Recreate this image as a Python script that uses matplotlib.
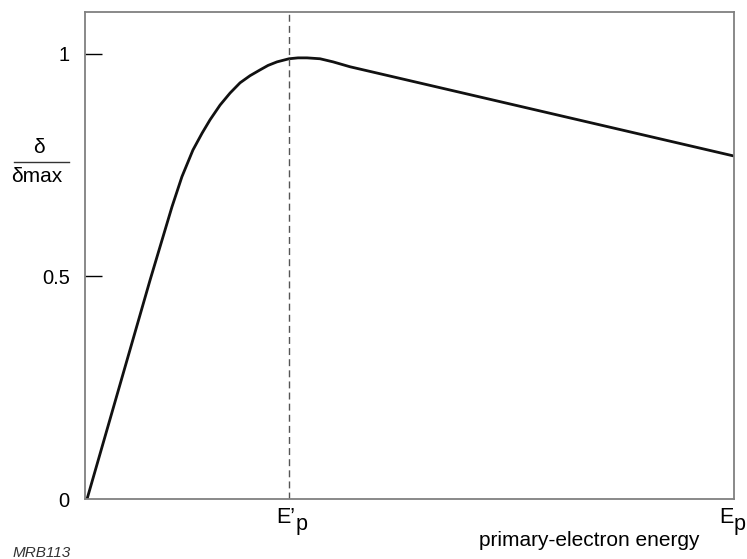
import matplotlib.pyplot as plt
import matplotlib.lines as mlines
import matplotlib.transforms as mtransforms

plt.rcParams['font.family'] = ['Liberation Sans', 'DejaVu Sans']

# curva delta/delta_max vs energia (E'p = 1)
energia = [0.01, 0.319, 0.426, 0.475, 0.529, 0.574, 0.613, 0.662, 0.711, 0.760,
           0.809, 0.858, 0.897, 0.941, 1.000, 1.044, 1.088, 1.152, 1.216, 1.299,
           3.176]
delta = [0.0, 0.492, 0.656, 0.724, 0.784, 0.822, 0.852, 0.885, 0.912, 0.935,
         0.951, 0.964, 0.974, 0.982, 0.989, 0.991, 0.991, 0.989, 0.982, 0.971,
         0.771]

ep_prima = 1.0
ep_max = 3.181
y_ticks = [0, 0.5, 1]
y_labels = ['0', '0.5', '1']

fig = plt.figure(figsize=(7.47, 5.59), dpi=100)
ax = fig.add_axes([0.1138, 0.1073, 0.8688, 0.8712])

ax.plot(energia, delta, color='#111111', lw=2.0, solid_capstyle='round',
        solid_joinstyle='round')
ax.axvline(ep_prima, color='#555555', lw=1.0, ls=(0, (5, 3)))

ax.set_xlim(0, ep_max)
ax.set_ylim(0, 1.094)

for s in ax.spines.values():
    s.set_color('#808080')
    s.set_linewidth(1.3)

ax.set_yticks(y_ticks)
ax.set_yticklabels(y_labels, fontsize=14.5)
ax.tick_params(axis='y', direction='in', length=12.5, width=1.0, color='black', pad=11)
# la marca del 0 queda tapada por el eje
ax.yaxis.get_major_ticks()[0].tick1line.set_visible(False)
ax.set_xticks([])

# etiquetas E'p y Ep (la p baja, mismo tamaño)
trans = ax.get_xaxis_transform()
for xpos, base, dx in [(ep_prima, 'E’', 6), (ep_max, 'E', -1)]:
    t1 = mtransforms.offset_copy(trans, fig=fig, x=dx, y=-18, units='dots')
    ax.text(xpos, 0, base, fontsize=15.5, ha='right', va='center', transform=t1)
    t2 = mtransforms.offset_copy(trans, fig=fig, x=dx + 1, y=-25, units='dots')
    ax.text(xpos, 0, 'p', fontsize=15.5, ha='left', va='center', transform=t2)

# etiqueta del eje y como fraccion
fig.text(39 / 747, 1 - 147 / 559, 'δ', fontsize=15, ha='center', va='center')
fig.add_artist(mlines.Line2D([14 / 747, 69 / 747], [1 - 162 / 559, 1 - 162 / 559],
                             color='#333333', lw=1.0, transform=fig.transFigure))
fig.text(37 / 747, 1 - 177 / 559, 'δmax', fontsize=15, ha='center', va='center')

fig.text(589 / 747, 1 - 540 / 559, 'primary-electron energy', fontsize=15,
         ha='center', va='center')
fig.text(13 / 747, 1 - 553 / 559, 'MRB113', fontsize=11, style='italic',
         ha='left', va='center', color='#333333')

fig.savefig('out.png', dpi=100)
